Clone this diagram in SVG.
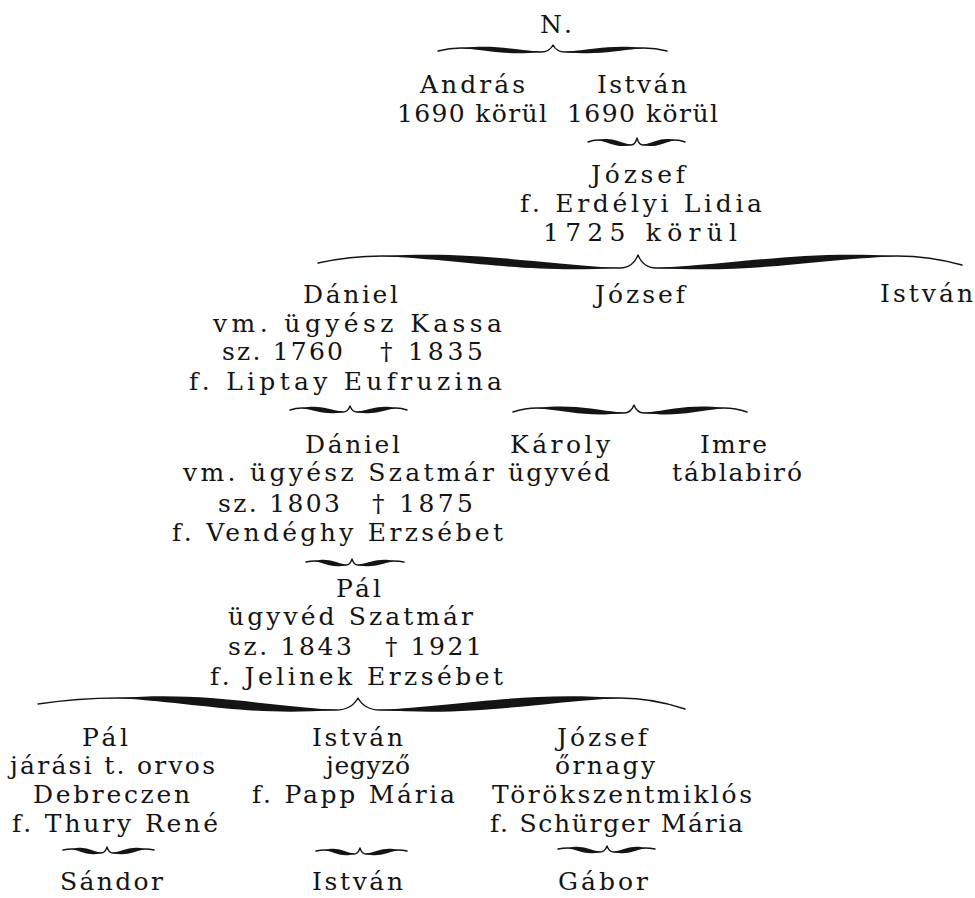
<svg xmlns="http://www.w3.org/2000/svg" width="975" height="898" viewBox="0 0 975 898">
<style>
text { font-family: "DejaVu Serif", "Liberation Serif", serif; font-size: 25px; fill: #141414; }
.b { fill: #141414; stroke: none; }
.t { fill: none; stroke: #141414; stroke-width: 1.4; stroke-linecap: round; stroke-linejoin: round; }
</style>
<rect x="0" y="0" width="975" height="898" fill="#ffffff"/>
<g id="connectors">
  <g id="brace-N">
    <path class="t" d="M438,51 Q449.5,48 461,48 C493,48 509,52 541,52 Q549.4,52 553,45 Q556.6,52 565,52 C597,52 612,48 644,48 Q655.5,48 667,51"/>
    <path class="b" d="M461,48 C493,44.7 509,48.7 541,52 C509,55.3 493,51.3 461,48 Z"/>
    <path class="b" d="M565,52 C597,48.7 612,44.7 644,48 C612,51.3 597,55.3 565,52 Z"/>
  </g>
  <g id="brace-Istvan1">
    <path class="t" d="M588,142 Q593,140 598,140 C611,140 618,145 631,145 Q635.2,145 637,138 Q638.8,145 643,145 C656,145 662,140 675,140 Q680,140 685,142"/>
    <path class="b" d="M598,140 C611,136.7 618,141.7 631,145 C618,148.3 611,143.3 598,140 Z"/>
    <path class="b" d="M643,145 C656,141.7 662,136.7 675,140 C662,143.3 656,148.3 643,145 Z"/>
  </g>
  <g id="brace-Jozsef1">
    <path class="t" d="M318,263 Q350,256 382,256 C477,256 525,268 620,268 Q632.6,268 638,255 Q643.4,268 656,268 C752,268 801,256 897,256 Q929.5,256 962,265"/>
    <path class="b" d="M382,256 C477,250.7 525,262.7 620,268 C525,273.3 477,261.3 382,256 Z"/>
    <path class="b" d="M656,268 C752,262.7 801,250.7 897,256 C801,261.3 752,273.3 656,268 Z"/>
  </g>
  <g id="brace-Daniel1">
    <path class="t" d="M290,410 Q296,408 302,408 C318,408 327,412 343,412 Q347.9,412 350,406 Q352.1,412 357,412 C373,412 380,408 396,408 Q401.5,408 407,410"/>
    <path class="b" d="M302,408 C318,404.7 327,408.7 343,412 C327,415.3 318,411.3 302,408 Z"/>
    <path class="b" d="M357,412 C373,408.7 380,404.7 396,408 C380,411.3 373,415.3 357,412 Z"/>
  </g>
  <g id="brace-Jozsef2">
    <path class="t" d="M513,412 Q525,408 537,408 C572,408 589,413 624,413 Q631,413 634,405 Q637,413 644,413 C676,413 692,408 724,408 Q735.5,408 747,412"/>
    <path class="b" d="M537,408 C572,404 589,409 624,413 C589,417 572,412 537,408 Z"/>
    <path class="b" d="M644,413 C676,409 692,404 724,408 C692,412 676,417 644,413 Z"/>
  </g>
  <g id="brace-Daniel2">
    <path class="t" d="M306,562 Q310.5,561 315,561 C327,561 334,565 346,565 Q350.2,565 352,559 Q353.8,565 358,565 C372,565 380,561 394,561 Q399,561 404,562"/>
    <path class="b" d="M315,561 C327,557.7 334,561.7 346,565 C334,568.3 327,564.3 315,561 Z"/>
    <path class="b" d="M358,565 C372,561.7 380,557.7 394,561 C380,564.3 372,568.3 358,565 Z"/>
  </g>
  <g id="brace-Pal1">
    <path class="t" d="M38,704 Q78,698 118,698 C205,698 249,710 336,710 Q351.4,710 358,698 Q364.6,710 380,710 C476,710 524,698 620,698 Q652.5,698 685,709"/>
    <path class="b" d="M118,698 C205,692 249,704 336,710 C249,716 205,704 118,698 Z"/>
    <path class="b" d="M380,710 C476,704 524,692 620,698 C524,704 476,716 380,710 Z"/>
  </g>
  <g id="brace-Pal2">
    <path class="t" d="M63,850 Q67.5,849 72,849 C84,849 89,853 101,853 Q105.2,853 107,847 Q108.8,853 113,853 C126,853 132,849 145,849 Q149.5,849 154,850"/>
    <path class="b" d="M72,849 C84,845.7 89,849.7 101,853 C89,856.3 84,852.3 72,849 Z"/>
    <path class="b" d="M113,853 C126,849.7 132,845.7 145,849 C132,852.3 126,856.3 113,853 Z"/>
  </g>
  <g id="brace-Istvan3">
    <path class="t" d="M316,851 Q320.5,850 325,850 C337,850 342,854 354,854 Q358.2,854 360,848 Q361.8,854 366,854 C379,854 385,850 398,850 Q402.5,850 407,851"/>
    <path class="b" d="M325,850 C337,846.7 342,850.7 354,854 C342,857.3 337,853.3 325,850 Z"/>
    <path class="b" d="M366,854 C379,850.7 385,846.7 398,850 C385,853.3 379,857.3 366,854 Z"/>
  </g>
  <g id="brace-Jozsef3">
    <path class="t" d="M558,849 Q563,848 568,848 C581,848 587,852 600,852 Q604.9,852 607,846 Q609.1,852 614,852 C626,852 633,848 645,848 Q650,848 655,849"/>
    <path class="b" d="M568,848 C581,844.7 587,848.7 600,852 C587,855.3 581,851.3 568,848 Z"/>
    <path class="b" d="M614,852 C626,848.7 633,844.7 645,848 C633,851.3 626,855.3 614,852 Z"/>
  </g>
</g>
<g id="node-N"><text x="540" y="33" textLength="32" lengthAdjust="spacing">N.</text></g>
<g id="node-Andras">
  <text x="420" y="93" textLength="105" lengthAdjust="spacing">András</text>
  <text x="397" y="122" textLength="150" lengthAdjust="spacing">1690 körül</text>
</g>
<g id="node-Istvan1">
  <text x="597" y="93" textLength="90" lengthAdjust="spacing">István</text>
  <text x="567" y="122" textLength="151" lengthAdjust="spacing">1690 körül</text>
</g>
<g id="node-Jozsef1">
  <text x="591" y="183" textLength="94" lengthAdjust="spacing">József</text>
  <text x="520" y="212" textLength="242" lengthAdjust="spacing">f. Erdélyi Lidia</text>
  <text x="543" y="241" textLength="194" lengthAdjust="spacing">1725 körül</text>
</g>
<g id="node-Daniel1">
  <text x="303" y="303" textLength="95" lengthAdjust="spacing">Dániel</text>
  <text x="213" y="332" textLength="289" lengthAdjust="spacing">vm. ügyész Kassa</text>
  <text y="360"><tspan x="222" textLength="121" lengthAdjust="spacing">sz. 1760</tspan> <tspan x="380" textLength="103" lengthAdjust="spacing">† 1835</tspan></text>
  <text x="189" y="390" textLength="313" lengthAdjust="spacing">f. Liptay Eufruzina</text>
</g>
<g id="node-Jozsef2"><text x="595" y="303" textLength="90" lengthAdjust="spacing">József</text></g>
<g id="node-Istvan2"><text x="880" y="302" textLength="93" lengthAdjust="spacing">István</text></g>
<g id="node-Daniel2">
  <text x="305" y="453" textLength="95" lengthAdjust="spacing">Dániel</text>
  <text x="183" y="481" textLength="311" lengthAdjust="spacing">vm. ügyész Szatmár</text>
  <text y="512"><tspan x="218" textLength="122" lengthAdjust="spacing">sz. 1803</tspan> <tspan x="372" textLength="101" lengthAdjust="spacing">† 1875</tspan></text>
  <text x="172" y="541" textLength="331" lengthAdjust="spacing">f. Vendéghy Erzsébet</text>
</g>
<g id="node-Karoly">
  <text x="510" y="453" textLength="100" lengthAdjust="spacing">Károly</text>
  <text x="508" y="481" textLength="102" lengthAdjust="spacing">ügyvéd</text>
</g>
<g id="node-Imre">
  <text x="700" y="453" textLength="67" lengthAdjust="spacing">Imre</text>
  <text x="672" y="481" textLength="130" lengthAdjust="spacing">táblabiró</text>
</g>
<g id="node-Pal1">
  <text x="336" y="597" textLength="45" lengthAdjust="spacing">Pál</text>
  <text x="228" y="625" textLength="245" lengthAdjust="spacing">ügyvéd Szatmár</text>
  <text y="655"><tspan x="228" textLength="124" lengthAdjust="spacing">sz. 1843</tspan> <tspan x="385" textLength="97" lengthAdjust="spacing">† 1921</tspan></text>
  <text x="210" y="685" textLength="293" lengthAdjust="spacing">f. Jelinek Erzsébet</text>
</g>
<g id="node-Pal2">
  <text x="82" y="746" textLength="46" lengthAdjust="spacing">Pál</text>
  <text x="10" y="774" textLength="205" lengthAdjust="spacing">járási t. orvos</text>
  <text x="33" y="803" textLength="157" lengthAdjust="spacing">Debreczen</text>
  <text x="12" y="832" textLength="206" lengthAdjust="spacing">f. Thury René</text>
</g>
<g id="node-Istvan3">
  <text x="312" y="746" textLength="91" lengthAdjust="spacing">István</text>
  <text x="326" y="774" textLength="84" lengthAdjust="spacing">jegyző</text>
  <text x="252" y="803" textLength="203" lengthAdjust="spacing">f. Papp Mária</text>
</g>
<g id="node-Jozsef3">
  <text x="557" y="746" textLength="90" lengthAdjust="spacing">József</text>
  <text x="555" y="774" textLength="100" lengthAdjust="spacing">őrnagy</text>
  <text x="492" y="803" textLength="260" lengthAdjust="spacing">Törökszentmiklós</text>
  <text x="490" y="832" textLength="253" lengthAdjust="spacing">f. Schürger Mária</text>
</g>
<g id="node-Sandor"><text x="60" y="890" textLength="103" lengthAdjust="spacing">Sándor</text></g>
<g id="node-Istvan4"><text x="312" y="890" textLength="91" lengthAdjust="spacing">István</text></g>
<g id="node-Gabor"><text x="558" y="890" textLength="90" lengthAdjust="spacing">Gábor</text></g>
</svg>
